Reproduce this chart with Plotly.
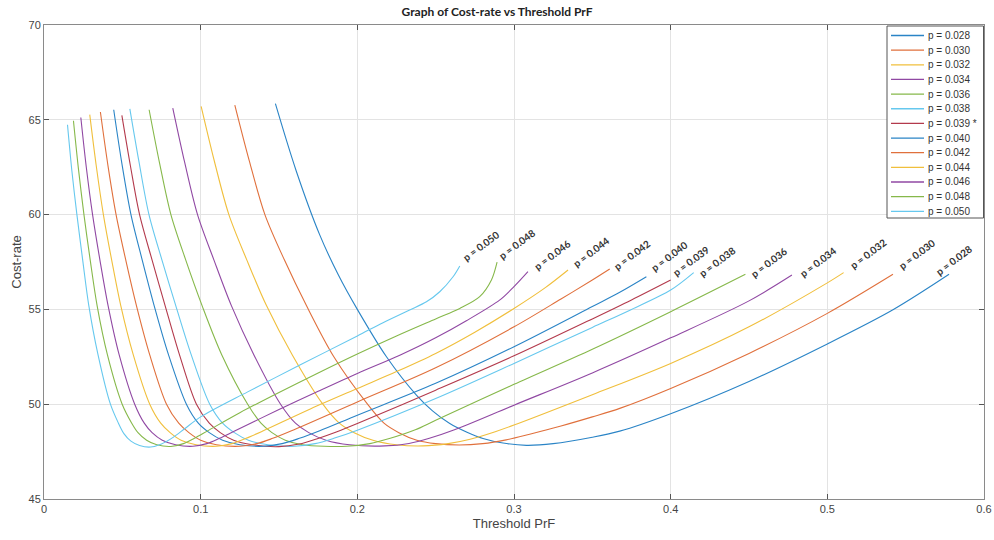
import plotly.graph_objects as go

# ---- data ----
p_labels = ["p = 0.028", "p = 0.030", "p = 0.032", "p = 0.034", "p = 0.036", "p = 0.038",
            "p = 0.039 *", "p = 0.040", "p = 0.042", "p = 0.044", "p = 0.046", "p = 0.048", "p = 0.050"]
end_labels = ["p = 0.028", "p = 0.030", "p = 0.032", "p = 0.034", "p = 0.036", "p = 0.038",
              "p = 0.039", "p = 0.040", "p = 0.042", "p = 0.044", "p = 0.046", "p = 0.048", "p = 0.050"]

x_028 = [0.1477, 0.1610, 0.1760, 0.1880, 0.2000, 0.2186, 0.2377, 0.2480, 0.2590, 0.2700, 0.2802, 0.2930, 0.3080,
         0.3250, 0.3500, 0.3675, 0.4000, 0.4500, 0.5000, 0.5419, 0.5777]
y_028 = [65.85, 62.3, 58.93, 56.8, 55.0, 52.5, 50.48, 49.65, 48.98, 48.52, 48.19, 47.95, 47.83,
         47.92, 48.26, 48.58, 49.5, 51.2, 53.18, 54.98, 56.85]

x_030 = [0.1218, 0.1310, 0.1410, 0.1535, 0.1675, 0.1850, 0.2065, 0.2170, 0.2265, 0.2380, 0.2500, 0.2650,
         0.2800, 0.2950, 0.3100, 0.3300, 0.3500, 0.3675, 0.4000, 0.4500, 0.5000, 0.5419]
y_030 = [65.78, 62.85, 60.0, 57.6, 55.2, 52.5, 50.0, 49.0, 48.5, 48.1, 47.92, 47.85,
         47.92, 48.12, 48.42, 48.85, 49.33, 49.78, 50.83, 52.68, 54.79, 56.85]

x_032 = [0.1003, 0.1088, 0.1180, 0.1295, 0.1420, 0.1585, 0.1780, 0.1885, 0.1980, 0.2100, 0.2250, 0.2420,
         0.2580, 0.2720, 0.2880, 0.3000, 0.3500, 0.4000, 0.4500, 0.5000, 0.5104]
y_032 = [65.71, 62.8, 60.0, 57.6, 55.2, 52.6, 50.0, 49.0, 48.5, 48.1, 47.86, 47.8,
         47.92, 48.15, 48.55, 48.9, 50.5, 52.15, 54.08, 56.4, 56.94]

x_034 = [0.0822, 0.0898, 0.0980, 0.1085, 0.1196, 0.1340, 0.1510, 0.1605, 0.1690, 0.1800, 0.1950, 0.2175,
         0.2330, 0.2460, 0.2620, 0.3000, 0.3500, 0.4000, 0.4500, 0.4774]
y_034 = [65.62, 62.75, 60.0, 57.6, 55.2, 52.6, 50.0, 49.0, 48.5, 48.1, 47.86, 47.8,
         47.93, 48.2, 48.65, 49.95, 51.65, 53.5, 55.45, 56.81]

x_036 = [0.0671, 0.0738, 0.0810, 0.0905, 0.1009, 0.1135, 0.1300, 0.1385, 0.1455, 0.1540, 0.1650, 0.1930,
         0.2080, 0.2210, 0.2370, 0.2500, 0.3000, 0.3500, 0.4000, 0.4477]
y_036 = [65.53, 62.7, 60.0, 57.6, 55.2, 52.6, 50.0, 49.0, 48.5, 48.1, 47.86, 47.78,
         47.92, 48.2, 48.65, 49.15, 51.05, 52.9, 54.88, 56.85]

x_038 = [0.0548, 0.0607, 0.0670, 0.0753, 0.0841, 0.0940, 0.1058, 0.1140, 0.1215, 0.1305, 0.1430, 0.1600,
         0.1730, 0.1850, 0.2000, 0.2500, 0.3000, 0.3500, 0.3750, 0.4000, 0.4147]
y_038 = [65.58, 62.75, 60.0, 57.6, 55.2, 52.6, 50.0, 49.0, 48.5, 48.1, 47.86, 47.78,
         47.92, 48.2, 48.63, 50.30, 52.15, 54.05, 55.0, 56.02, 56.94]

x_039 = [0.0497, 0.0552, 0.0610, 0.0690, 0.0773, 0.0865, 0.0973, 0.1055, 0.1125, 0.1210, 0.1330, 0.1500,
         0.1630, 0.1740, 0.1870, 0.2000, 0.2500, 0.3000, 0.3500, 0.3750, 0.4000]
y_039 = [65.23, 62.55, 60.0, 57.6, 55.2, 52.6, 50.0, 49.0, 48.5, 48.1, 47.86, 47.76,
         47.9, 48.17, 48.55, 48.98, 50.74, 52.55, 54.5, 55.5, 56.55]

x_040 = [0.0445, 0.0497, 0.0555, 0.0627, 0.0703, 0.0795, 0.0909, 0.0985, 0.1055, 0.1140, 0.1250, 0.1400,
         0.1520, 0.1630, 0.1760, 0.2000, 0.2500, 0.3000, 0.3500, 0.3675, 0.3845]
y_040 = [65.53, 62.7, 60.0, 57.6, 55.2, 52.6, 50.0, 49.0, 48.5, 48.1, 47.86, 47.78,
         47.92, 48.2, 48.6, 49.42, 51.1, 53.03, 55.15, 55.9, 56.72]

x_042 = [0.0360, 0.0408, 0.0460, 0.0522, 0.0590, 0.0675, 0.0782, 0.0860, 0.0925, 0.1000, 0.1100, 0.1250,
         0.1360, 0.1460, 0.1580, 0.2000, 0.2500, 0.3000, 0.3300, 0.3500, 0.3611]
y_042 = [65.41, 62.6, 60.0, 57.6, 55.2, 52.6, 50.0, 49.0, 48.5, 48.1, 47.86, 47.78,
         47.92, 48.2, 48.6, 50.12, 51.92, 54.08, 55.55, 56.55, 57.13]

x_044 = [0.0292, 0.0333, 0.0379, 0.0432, 0.0490, 0.0570, 0.0675, 0.0745, 0.0805, 0.0875, 0.0970, 0.1100,
         0.1200, 0.1290, 0.1400, 0.1700, 0.2000, 0.2250, 0.2500, 0.2750, 0.3000, 0.3200, 0.3345]
y_044 = [65.27, 62.6, 60.0, 57.6, 55.2, 52.6, 50.0, 49.0, 48.5, 48.1, 47.86, 47.78,
         47.92, 48.2, 48.6, 49.75, 50.83, 51.72, 52.68, 53.8, 55.05, 56.15, 57.08]

x_046 = [0.0235, 0.0270, 0.0310, 0.0357, 0.0409, 0.0480, 0.0579, 0.0640, 0.0690, 0.0755, 0.0840, 0.0950,
         0.1040, 0.1120, 0.1220, 0.1500, 0.1750, 0.2000, 0.2271, 0.2500, 0.2696, 0.2910, 0.3000, 0.3089]
y_046 = [65.12, 62.5, 60.0, 57.6, 55.2, 52.6, 50.0, 49.0, 48.5, 48.1, 47.86, 47.78,
         47.92, 48.2, 48.6, 49.72, 50.68, 51.62, 52.58, 53.5, 54.4, 55.5, 56.2, 56.99]

x_048 = [0.0188, 0.0220, 0.0255, 0.0295, 0.0339, 0.0405, 0.0499, 0.0560, 0.0600, 0.0655, 0.0720, 0.0810,
         0.0890, 0.0960, 0.1050, 0.1250, 0.1500, 0.1750, 0.2000, 0.2250, 0.2500, 0.2654, 0.2781, 0.2856, 0.2892]
y_048 = [64.95, 62.4, 60.0, 57.6, 55.2, 52.6, 50.0, 49.0, 48.5, 48.1, 47.86, 47.77,
         47.92, 48.2, 48.62, 49.55, 50.62, 51.65, 52.65, 53.6, 54.5, 55.05, 55.67, 56.55, 57.49]

x_050 = [0.0150, 0.0178, 0.0210, 0.0247, 0.0286, 0.0345, 0.0424, 0.0475, 0.0510, 0.0555, 0.0610, 0.0680,
         0.0750, 0.0824, 0.0900, 0.1000, 0.1300, 0.1630, 0.2000, 0.2164, 0.2334, 0.2441, 0.2526, 0.2611, 0.2654]
y_050 = [64.74, 62.3, 60.0, 57.6, 55.2, 52.6, 50.0, 49.0, 48.45, 48.05, 47.82, 47.74,
         47.9, 48.25, 48.72, 49.33, 50.65, 52.05, 53.6, 54.3, 54.97, 55.40, 55.93, 56.72, 57.29]

series_x = [x_028, x_030, x_032, x_034, x_036, x_038, x_039, x_040, x_042, x_044, x_046, x_048, x_050]
series_y = [y_028, y_030, y_032, y_034, y_036, y_038, y_039, y_040, y_042, y_044, y_046, y_048, y_050]

x_ticks = [0, 0.1, 0.2, 0.3, 0.4, 0.5, 0.6]
x_tick_text = ["0", "0.1", "0.2", "0.3", "0.4", "0.5", "0.6"]
y_ticks = [45, 50, 55, 60, 65, 70]

# ---- styling ----
colors = ["#2a84c6", "#e0703c", "#f0bf3c", "#9048a3", "#86b84a", "#66c8ee", "#b33a4c",
          "#2a84c6", "#e0703c", "#f0bf3c", "#9048a3", "#86b84a", "#66c8ee"]
# pixel offsets of each end label's centre from the end of its curve
label_dx = [5, 24, 24, 26, 24, 23, 20, 23, 22, 23, 24, 20, 21]
label_dy = [14, 20, 19, 13, 12, 11, 19, 21, 14, 18, 17, 18, 20]

FW, FH = 994, 540
# plot area in pixels
L, R, T, B = 44, 984, 25, 499
W, H = R - L, B - T

def dx_(px):
    return (px - L) / W

def dy_(py):
    return (B - py) / H

fig = go.Figure()
for name, xs, ys, c in zip(p_labels, series_x, series_y, colors):
    fig.add_trace(go.Scatter(x=xs, y=ys, mode="lines", name=name, showlegend=False,
                             line=dict(color=c, width=1.1, shape="spline", smoothing=0.9)))

for lab, xs, ys, dx, dy in zip(end_labels, series_x, series_y, label_dx, label_dy):
    fig.add_annotation(x=xs[-1], y=ys[-1], text="<b>" + lab + "</b>", showarrow=False,
                       textangle=-37, xanchor="center", yanchor="middle",
                       xshift=dx, yshift=dy,
                       font=dict(family="Lato, Liberation Sans, sans-serif", size=10, color="#333333"))

# legend (compact, MATLAB style)
fig.add_shape(type="rect", xref="x domain", yref="y domain",
              x0=dx_(887), x1=dx_(983.5), y0=dy_(218), y1=dy_(26),
              line=dict(color="#555555", width=1), fillcolor="white", layer="above")
for i, (name, c) in enumerate(zip(p_labels, colors)):
    py = 35.5 + i * 14.65
    fig.add_shape(type="line", xref="x domain", yref="y domain",
                  x0=dx_(891), x1=dx_(924), y0=dy_(py), y1=dy_(py),
                  line=dict(color=c, width=1.3), layer="above")
    fig.add_annotation(xref="x domain", yref="y domain", x=dx_(926), y=dy_(py),
                       text=name, showarrow=False, xanchor="left", yanchor="middle",
                       font=dict(family="Liberation Sans, Arial, sans-serif", size=10, color="#333333"))

axis_common = dict(showline=True, linecolor="#8a8a8a", linewidth=1, mirror="ticks",
                   ticks="inside", ticklen=5, tickcolor="#555555", automargin=False,
                   showgrid=True, gridcolor="#e3e3e3", gridwidth=1, zeroline=False,
                   tickfont=dict(family="Liberation Sans, Arial, sans-serif", size=11, color="#444444"))

fig.update_layout(
    width=FW, height=FH,
    margin=dict(l=L, r=FW - R, t=T, b=FH - B),
    paper_bgcolor="white", plot_bgcolor="white",
    title=dict(text="<b>Graph of Cost-rate vs Threshold PrF</b>", x=0.5, xanchor="center",
               y=1 - 12 / FH, yanchor="middle",
               font=dict(family="Lato, Liberation Sans, sans-serif", size=12, color="#222222")),
    xaxis=dict(range=[0, 0.6], tickvals=x_ticks, ticktext=x_tick_text,
               title=dict(text="Threshold PrF", standoff=4,
                          font=dict(family="Liberation Sans, Arial, sans-serif", size=13, color="#444444")),
               **axis_common),
    yaxis=dict(range=[45, 70], tickvals=y_ticks,
               title=dict(text="Cost-rate", standoff=3,
                          font=dict(family="Liberation Sans, Arial, sans-serif", size=13, color="#444444")),
               **axis_common),
    showlegend=False,
)

fig.write_html("out.html", config={"displayModeBar": False},
               post_script="document.body.style.margin='0';document.body.style.overflow='hidden';")
